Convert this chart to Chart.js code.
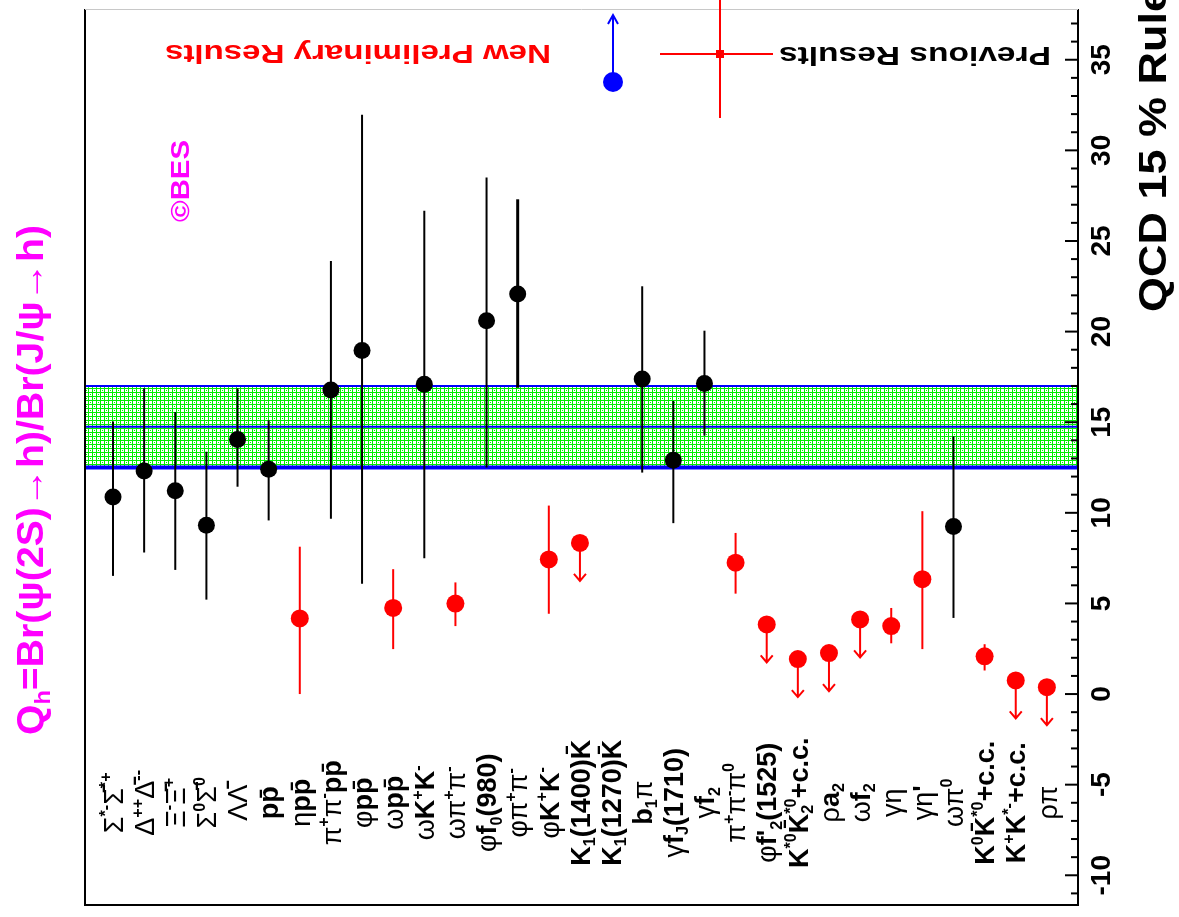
<!DOCTYPE html>
<html>
<head>
<meta charset="utf-8">
<script src="https://cdn.jsdelivr.net/npm/chart.js@4.4.0/dist/chart.umd.min.js"></script>
<style>
  html, body { margin: 0; padding: 0; background: #fff; }
  canvas { display: block; }
</style>
</head>
<body>
<canvas id="qChart" width="1179" height="917"></canvas>
<script>
// decay channels h, left to right
const channels = [
    'Σ^{*-}Σ̄^{*+}', 'Δ^{++}Δ̄^{--}', 'Ξ^{-}Ξ̄^{+}', 'Σ^{0}Σ̄^{0}', 'ΛΛ̄', 'pp̄', 'ηpp̄', 'π^{+}π^{-}pp̄',
    'φpp̄', 'ωpp̄', 'ωK^{+}K^{-}', 'ωπ^{+}π^{-}', 'φf_{0}(980)', 'φπ^{+}π^{-}', 'φK^{+}K^{-}',
    'K_{1}(1400)K̄', 'K_{1}(1270)K̄', 'b_{1}π', 'γf_{J}(1710)', 'γf_{2}', 'π^{+}π^{-}π^{0}',
    "φf'_{2}(1525)", 'K^{*0}K̄^{*0}_{2}+c.c.', 'ρa_{2}', 'ωf_{2}', 'γη', "γη'", 'ωπ^{0}',
    'K^{0}K̄^{*0}+c.c.', 'K^{+}K^{*-}+c.c.', 'ρπ'
];

// previous results (black), Q_h in %
const prevQ  = [10.87, 12.31, 11.22, 9.31, 14.04, 12.40, null, 16.78, 18.96, null, 17.09, null, 20.6, 22.08, null, null, null, 17.38, 12.9, 17.14, null, null, null, null, null, null, null, 9.25, null, null, null];
const prevLo = [6.52, 7.81, 6.85, 5.21, 11.44, 9.58, null, 9.67, 6.08, null, 7.49, null, 12.5, 16.9, null, null, null, 12.22, 9.43, 14.26, null, null, null, null, null, null, null, 4.2, null, null, null];
const prevHi = [15.04, 16.87, 15.56, 13.37, 16.87, 15.1, null, 23.9, 31.97, null, 26.67, null, 28.5, 27.3, null, null, null, 22.5, 16.17, 20.05, null, null, null, null, null, null, null, 14.22, null, null, null];

// new preliminary results (red)
const newQ  = [null, null, null, null, null, null, 4.17, null, null, 4.75, null, 4.99, null, null, 7.43, null, null, null, null, null, 7.25, null, null, null, null, 3.75, 6.34, null, 2.08, null, null];
const newLo = [null, null, null, null, null, null, 0.0, null, null, 2.48, null, 3.75, null, null, 4.43, null, null, null, null, null, 5.54, null, null, null, null, 2.8, 2.48, null, 1.3, null, null];
const newHi = [null, null, null, null, null, null, 8.13, null, null, 6.89, null, 6.16, null, null, 10.4, null, null, null, null, null, 8.89, null, null, null, null, 4.75, 10.09, null, 2.75, null, null];
// new upper limits (red, arrow down)
const newLimit = [null, null, null, null, null, null, null, null, null, null, null, null, null, null, null, 8.34, null, null, null, null, null, 3.84, 1.93, 2.26, 4.12, null, null, null, null, 0.75, 0.38];

// 12% rule band: low, central, high
const qcdBand = [12.5, 14.75, 17.0];
const qTicks = [-10, -5, 0, 5, 10, 15, 20, 25, 30, 35];

const LABEL_Q = -6.0;
const BLUE = '#0000ff';
const RED = '#ff0000';
const MAGENTA = '#ff00ff';

function toPoints(vals) {
    const pts = [];
    vals.forEach((v, i) => { if (v !== null) pts.push({ x: i, y: v }); });
    return pts;
}

function hatchPattern(ctx) {
    const c = document.createElement('canvas');
    c.width = 8; c.height = 8;
    const g = c.getContext('2d');
    g.fillStyle = '#00ee00';
    g.fillRect(0, 0, 8, 8);
    g.fillStyle = '#fff';
    [[1, 1], [5, 5], [5, 1], [1, 5]].forEach(p => g.fillRect(p[0], p[1], 3, 3));
    g.fillStyle = '#00ee00';
    g.fillRect(2, 2, 1, 1);
    g.fillRect(6, 6, 1, 1);
    return ctx.createPattern(c, 'repeat');
}

// split "a^{b}c_{d}" into pieces
function parseRich(s) {
    const out = [];
    let buf = '';
    for (let i = 0; i < s.length; i++) {
        const c = s[i];
        if (c === '^' || c === '_') {
            if (buf) { out.push({ t: buf, m: 'n' }); buf = ''; }
            let t;
            if (s[i + 1] === '{') {
                const j = s.indexOf('}', i + 2);
                t = s.slice(i + 2, j);
                i = j;
            } else {
                t = s[i + 1];
                i++;
            }
            out.push({ t: t, m: c === '^' ? 'sup' : 'sub' });
        } else {
            buf += c;
        }
    }
    if (buf) out.push({ t: buf, m: 'n' });
    return out;
}

function splitGreek(t) {
    const runs = [];
    for (const ch of t) {
        const gr = /[\u0370-\u03ff]/.test(ch);
        if (runs.length && runs[runs.length - 1].g === gr) runs[runs.length - 1].t += ch;
        else runs.push({ t: ch, g: gr });
    }
    return runs;
}

// draws rich text centred (or left aligned) at current origin, horizontally
function drawRich(ctx, s, size, opts) {
    opts = opts || {};
    const family = '"Liberation Sans", Arial, sans-serif';
    const thinGreek = opts.thinGreek !== false;
    const segs = parseRich(s);
    let x = 0;
    let prev = null;
    const items = [];
    segs.forEach(seg => {
        const sz = seg.m === 'n' ? size : size * 0.6;
        const dy = seg.m === 'sup' ? -size * 0.42 : (seg.m === 'sub' ? size * 0.2 : 0);
        let w = 0;
        const runs = splitGreek(seg.t).map(r => {
            ctx.font = ((r.g && thinGreek) ? 'normal ' : 'bold ') + sz + 'px ' + family;
            const rw = ctx.measureText(r.t).width;
            const item = { t: r.t, font: ctx.font, dx: w, dy: dy };
            w += rw;
            return item;
        });
        let start = x;
        if (prev && prev.m !== 'n' && seg.m !== 'n' && prev.m !== seg.m) {
            start = prev.start;
            x = Math.max(prev.start + prev.w, start + w);
        } else {
            x = start + w;
        }
        runs.forEach(r => items.push({ t: r.t, font: r.font, x: start + r.dx, y: r.dy }));
        prev = { m: seg.m, start: start, w: w };
    });
    const total = x;
    const sx = opts.len ? opts.len / total : 1;
    ctx.save();
    ctx.scale(sx, 1);
    const x0 = opts.align === 'left' ? 0 : -total / 2;
    ctx.textAlign = 'left';
    ctx.textBaseline = 'alphabetic';
    items.forEach(it => {
        ctx.font = it.font;
        ctx.fillText(it.t, x0 + it.x, it.y + size * 0.36);
    });
    ctx.restore();
}

function fitText(ctx, text, x, y, angle, font, len, color) {
    ctx.save();
    ctx.translate(x, y);
    ctx.rotate(angle);
    ctx.font = font;
    ctx.fillStyle = color;
    ctx.textAlign = 'center';
    ctx.textBaseline = 'middle';
    const w = ctx.measureText(text).width;
    if (len) ctx.scale(len / w, 1);
    ctx.fillText(text, 0, 0);
    ctx.restore();
}

const qcdPlugin = {
    id: 'qcdPlugin',
    beforeDatasetsDraw(chart) {
        const ctx = chart.ctx;
        const xs = chart.scales.x;
        const ys = chart.scales.y;
        const area = chart.chartArea;

        // band
        const yLo = ys.getPixelForValue(qcdBand[0]);
        const yMid = ys.getPixelForValue(qcdBand[1]);
        const yHi = ys.getPixelForValue(qcdBand[2]);
        ctx.save();
        ctx.fillStyle = hatchPattern(ctx);
        ctx.fillRect(area.left, yHi, area.right - area.left, yLo - yHi);
        ctx.strokeStyle = BLUE;
        ctx.lineWidth = 2;
        ctx.beginPath();
        ctx.moveTo(area.left, yHi); ctx.lineTo(area.right, yHi);
        ctx.moveTo(area.left, yMid); ctx.lineTo(area.right, yMid);
        ctx.moveTo(area.left, yHi); ctx.lineTo(area.left, yLo);
        ctx.moveTo(area.right, yHi); ctx.lineTo(area.right, yLo);
        ctx.stroke();
        ctx.lineWidth = 4;
        ctx.beginPath();
        ctx.moveTo(area.left, yLo); ctx.lineTo(area.right, yLo);
        ctx.stroke();
        ctx.restore();

        // error bars
        ctx.save();
        ctx.lineWidth = 2;
        channels.forEach((c, i) => {
            const x = xs.getPixelForValue(i);
            if (prevQ[i] !== null) {
                ctx.strokeStyle = '#000';
                ctx.lineWidth = i === 13 ? 3 : 2;
                ctx.beginPath();
                ctx.moveTo(x, ys.getPixelForValue(prevLo[i]));
                ctx.lineTo(x, ys.getPixelForValue(prevHi[i]));
                ctx.stroke();
            }
            if (newQ[i] !== null) {
                ctx.strokeStyle = RED;
                ctx.lineWidth = 2;
                ctx.beginPath();
                ctx.moveTo(x, ys.getPixelForValue(newLo[i]));
                ctx.lineTo(x, ys.getPixelForValue(newHi[i]));
                ctx.stroke();
            }
            if (newLimit[i] !== null) {
                const y0 = ys.getPixelForValue(newLimit[i]);
                const y1 = y0 + 38;
                ctx.strokeStyle = RED;
                ctx.lineWidth = 2;
                ctx.beginPath();
                ctx.moveTo(x, y0);
                ctx.lineTo(x, y1);
                ctx.moveTo(x - 6, y1 - 7);
                ctx.lineTo(x, y1);
                ctx.lineTo(x + 6, y1 - 7);
                ctx.stroke();
            }
        });
        ctx.restore();
    },
    afterDraw(chart) {
        const ctx = chart.ctx;
        const xs = chart.scales.x;
        const ys = chart.scales.y;
        const area = chart.chartArea;

        // frame
        ctx.save();
        ctx.strokeStyle = '#000';
        ctx.lineWidth = 2;
        ctx.beginPath();
        ctx.moveTo(area.left, area.top);
        ctx.lineTo(area.left, area.bottom);
        ctx.lineTo(area.right, area.bottom);
        ctx.lineTo(area.right, area.top);
        ctx.stroke();
        ctx.strokeStyle = '#c8c8c8';
        ctx.lineWidth = 1;
        ctx.beginPath();
        ctx.moveTo(area.left, area.top + 0.5);
        ctx.lineTo(area.right, area.top + 0.5);
        ctx.stroke();

        // ticks on the right axis
        ctx.strokeStyle = '#000';
        ctx.lineWidth = 2;
        for (let v = Math.ceil(ys.min); v <= Math.floor(ys.max); v++) {
            const y = ys.getPixelForValue(v);
            const len = v % 5 === 0 ? 13 : 7;
            ctx.beginPath();
            ctx.moveTo(area.right - len, y);
            ctx.lineTo(area.right, y);
            ctx.stroke();
        }
        ctx.restore();

        // tick labels
        qTicks.forEach(t => {
            fitText(ctx, String(t), area.right + 24, ys.getPixelForValue(t), -Math.PI / 2,
                'bold 28px "Liberation Sans", Arial, sans-serif', null, '#000');
        });

        // channel labels
        ctx.save();
        ctx.fillStyle = '#000';
        channels.forEach((c, i) => {
            ctx.save();
            ctx.translate(xs.getPixelForValue(i), ys.getPixelForValue(LABEL_Q));
            ctx.rotate(-Math.PI / 2);
            drawRich(ctx, c, 27);
            ctx.restore();
        });
        ctx.restore();

        // axis titles
        ctx.save();
        ctx.fillStyle = MAGENTA;
        ctx.translate(30, 480);
        ctx.rotate(-Math.PI / 2);
        drawRich(ctx, 'Q_{h}=Br(ψ(2S)→h)/Br(J/ψ→h)', 36, { len: 510, thinGreek: false });
        ctx.restore();

        ctx.save();
        ctx.fillStyle = '#000';
        ctx.translate(1152, 312);
        ctx.rotate(-Math.PI / 2);
        drawRich(ctx, 'QCD 15 % Rule', 38, { align: 'left', len: 325 });
        ctx.restore();

        fitText(ctx, '©BES', 182, 181, -Math.PI / 2, 'bold 26px "Liberation Sans", Arial, sans-serif', 82, MAGENTA);

        // legend
        ctx.save();
        ctx.strokeStyle = RED;
        ctx.fillStyle = RED;
        ctx.lineWidth = 2;
        ctx.beginPath();
        ctx.moveTo(660, 54); ctx.lineTo(773, 54);
        ctx.moveTo(720, 0); ctx.lineTo(720, 118);
        ctx.stroke();
        ctx.fillRect(716, 50, 8, 8);
        ctx.strokeStyle = BLUE;
        ctx.fillStyle = BLUE;
        ctx.beginPath();
        ctx.moveTo(613, 82); ctx.lineTo(613, 16);
        ctx.moveTo(608, 24); ctx.lineTo(613, 15); ctx.lineTo(618, 24);
        ctx.stroke();
        ctx.beginPath();
        ctx.arc(613, 82, 10, 0, 2 * Math.PI);
        ctx.fill();
        ctx.restore();

        fitText(ctx, 'Previous Results', 915, 54, Math.PI, 'bold 26px "Liberation Sans", Arial, sans-serif', 272, '#000');
        fitText(ctx, 'New Preliminary Results', 358, 52, Math.PI, 'bold 26px "Liberation Sans", Arial, sans-serif', 386, RED);
    }
};

const CTX = document.getElementById('qChart');
new Chart(CTX, {
    type: 'scatter',
    data: {
        datasets: [
            {
                label: 'Previous Results',
                data: toPoints(prevQ),
                backgroundColor: '#000',
                borderWidth: 0,
                pointRadius: 8.5
            },
            {
                label: 'New Preliminary Results',
                data: toPoints(newQ),
                backgroundColor: RED,
                borderWidth: 0,
                pointRadius: 9
            },
            {
                label: 'Upper limits',
                data: toPoints(newLimit),
                backgroundColor: RED,
                borderWidth: 0,
                pointRadius: 9
            }
        ]
    },
    options: {
        responsive: false,
        devicePixelRatio: 1,
        animation: false,
        layout: { padding: { left: 85, right: 101, top: 0, bottom: 12 } },
        plugins: { legend: { display: false }, tooltip: { enabled: false } },
        scales: {
            x: { type: 'linear', min: -0.9, max: 31.0, display: false },
            y: { type: 'linear', min: -11.64, max: 37.8, display: false }
        }
    },
    plugins: [qcdPlugin]
});
</script>
</body>
</html>
